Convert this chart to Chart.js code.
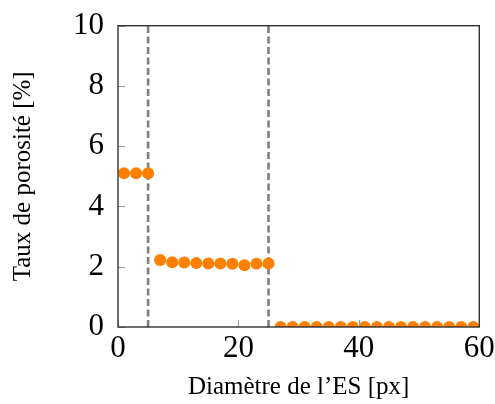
<!DOCTYPE html>
<html>
<head>
<meta charset="utf-8">
<script src="https://cdn.jsdelivr.net/npm/chart.js@4.4.1/dist/chart.umd.min.js"></script>
<style>
html,body{margin:0;padding:0;background:#fff;}
canvas{display:block;}
</style>
</head>
<body>
<canvas id="c" width="495" height="404"></canvas>
<script>
// Data
const diameters = [1,3,5,7,9,11,13,15,17,19,21,23,25,27,29,31,33,35,37,39,41,43,45,47,49,51,53,55,57,59];
const porosity = [5.1,5.1,5.1,2.22,2.15,2.14,2.12,2.11,2.11,2.10,2.05,2.10,2.11,0,0,0,0,0,0,0,0,0,0,0,0,0,0,0,0,0];
const thresholds = [5, 25];
const xTicks = [0, 20, 40, 60];
const yTicks = [0, 2, 4, 6, 8, 10];
const xLabel = "Diamètre de l’ES [px]";
const yLabel = "Taux de porosité [%]";

const serif = "'Liberation Serif', 'Times New Roman', serif";

const pts = diameters.map((d, i) => ({x: d, y: porosity[i]}));
const dashedSets = thresholds.map(t => ({
  type: 'line',
  data: [{x: t, y: 0}, {x: t, y: 10}],
  borderColor: '#7f7f7f',
  borderWidth: 2.6,
  borderDash: [7, 3.5],
  pointRadius: 0,
  fill: false,
  order: 2
}));

const frame = {
  id: 'frame',
  afterDatasetsDraw(chart) {
    const {ctx, chartArea: a, scales} = chart;
    ctx.save();
    // inward tick marks
    ctx.strokeStyle = '#9a9a9a';
    ctx.lineWidth = 1;
    ctx.beginPath();
    xTicks.forEach(v => {
      const px = Math.round(scales.x.getPixelForValue(v)) + 0.5;
      ctx.moveTo(px, a.bottom);
      ctx.lineTo(px, a.bottom - 7);
    });
    yTicks.forEach(v => {
      const py = Math.round(scales.y.getPixelForValue(v)) + 0.5;
      ctx.moveTo(a.left, py);
      ctx.lineTo(a.left + 7, py);
    });
    ctx.stroke();
    // axis box
    ctx.strokeStyle = '#333333';
    ctx.lineWidth = 1.4;
    ctx.strokeRect(a.left, a.top, a.right - a.left, a.bottom - a.top);
    ctx.restore();
  }
};

new Chart(document.getElementById('c'), {
  type: 'scatter',
  data: {
    datasets: [{
      data: pts,
      backgroundColor: '#ff8000',
      borderColor: '#ff8000',
      pointRadius: 6,
      pointHoverRadius: 6,
      borderWidth: 0,
      order: 1
    }, ...dashedSets]
  },
  options: {
    responsive: false,
    animation: false,
    events: [],
    layout: {padding: {left: 0, right: 15.7, top: 25.7, bottom: 0}},
    plugins: {legend: {display: false}, tooltip: {enabled: false}},
    scales: {
      x: {
        type: 'linear', min: 0, max: 60,
        afterBuildTicks: s => { s.ticks = xTicks.map(v => ({value: v})); },
        afterFit: s => { s.height = 77; },
        grid: {display: false, drawTicks: false},
        border: {display: false},
        ticks: {color: '#000', font: {family: serif, size: 31, lineHeight: 1.42}, padding: 0, maxRotation: 0},
        title: {display: true, text: xLabel, color: '#000', font: {family: serif, size: 25}, padding: {top: 0, bottom: 2}}
      },
      y: {
        type: 'linear', min: 0, max: 10,
        afterBuildTicks: s => { s.ticks = yTicks.map(v => ({value: v})); },
        afterFit: s => { s.width = 118; },
        grid: {display: false, drawTicks: false},
        border: {display: false},
        ticks: {color: '#000', font: {family: serif, size: 31, lineHeight: 0.75}, padding: 14},
        title: {display: true, text: yLabel, color: '#000', font: {family: serif, size: 25}, padding: {top: 8, bottom: 0}}
      }
    }
  },
  plugins: [frame]
});
</script>
</body>
</html>
